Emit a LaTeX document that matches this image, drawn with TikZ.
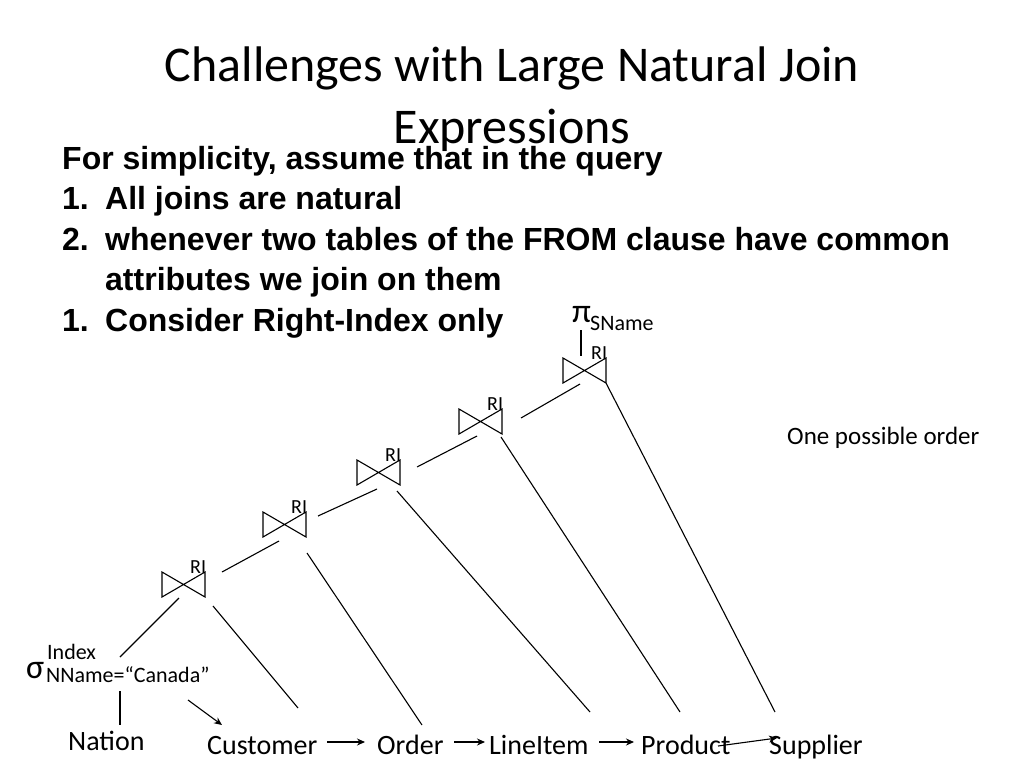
\documentclass[tikz,border=0pt]{standalone}
\usepackage{fontspec}
\setmainfont{Carlito}
\newfontfamily\comic{Liberation Sans}
\usetikzlibrary{arrows.meta}
\begin{document}
\begin{tikzpicture}[x=1pt,y=-1pt,
  lbl/.style={inner sep=0pt,anchor=base west},
  small/.style={lbl,font=\fontsize{22}{22}\selectfont},
  body/.style={lbl,font=\comic\bfseries\fontsize{32}{32}\selectfont},
  big/.style={lbl,font=\fontsize{28}{28}\selectfont},
  ln/.style={line width=1.1pt},
  arr/.style={line width=1.1pt,-{Stealth[length=8pt,width=7pt]}}]
\useasboundingbox (0,0) rectangle (1024,768);
\node[font=\fontsize{50}{50}\selectfont,align=center,inner sep=0pt] (title) at (512,99) {Challenges with Large Natural Join\\[12pt]Expressions};
\node[body] (t0) at (62,169) {For simplicity, assume that in the query};
\node[body] (t1) at (62,209) {1.};\node[body] (t1b) at (105,209) {All joins are natural};
\node[body] (t2) at (62,250) {2.};\node[body] (t2b) at (105,250) {whenever two tables of the FROM clause have common};
\node[body] (t3) at (105,290) {attributes we join on them};
\node[body] (t4) at (62,331) {1.};\node[body] (t4b) at (105,331) {Consider Right-Index only};
\node[lbl,font=\fontsize{25}{25}\selectfont] (opo) at (787,444) {One possible order};
% bowties
\foreach \n/\x/\y in {b1/162/572,b2/263/512,b3/357/460,b4/459/409,b5/563/358}{
  \draw[ln] (\x,\y) -- (\x,\y+25) -- (\x+43,\y) -- (\x+43,\y+25) -- cycle;
  \coordinate (\n) at (\x+21.5,\y+12.5);
  \node[lbl,font=\fontsize{20}{20}\selectfont] (\n l) at (\x+28,\y+1) {RI};
}
\node[lbl,font=\fontsize{34}{34}\selectfont] (pi) at (572,322) {π};
\node[small] (pis) at (590,330) {SName};
\draw[ln] (581,330) -- (581,356);
\node[lbl,font=\fontsize{34}{34}\selectfont] (sig) at (26,678) {σ};
\node[small] (idx) at (47,659) {Index};
\node[small] (nn) at (46,682) {NName=“Canada”};
\node[big] (nat) at (68,750) {Nation};
\node[big] (cus) at (207,754) {Customer};
\node[big] (ord) at (377,754) {Order};
\node[big] (lin) at (489,754) {LineItem};
\node[big] (pro) at (641,754) {Product};
\node[big] (sup) at (769,754) {Supplier};
% join-to-join lines
\draw[ln] (222,572) -- (279,541);
\draw[ln] (318,516) -- (377,489);
\draw[ln] (417,467) -- (477,436);
\draw[ln] (521,418) -- (580,384);
% right children
\draw[ln] (606,383) -- (775,712);
\draw[ln] (501,437) -- (680,712);
\draw[ln] (397,491) -- (590,712);
\draw[ln] (307,553) -- (422,725);
\draw[ln] (213,606) -- (298,708);
% left child
\draw[ln] (179,598) -- (120,657);
\draw[ln] (120,691) -- (120,725);
% arrows
\draw[arr] (188,700) -- (222,725);
\draw[arr] (327,742) -- (365,742);
\draw[arr] (454,742) -- (485,742);
\draw[arr] (599,742) -- (634,742);
\draw[arr] (718,746) -- (777,738);
\end{tikzpicture}
\end{document}
